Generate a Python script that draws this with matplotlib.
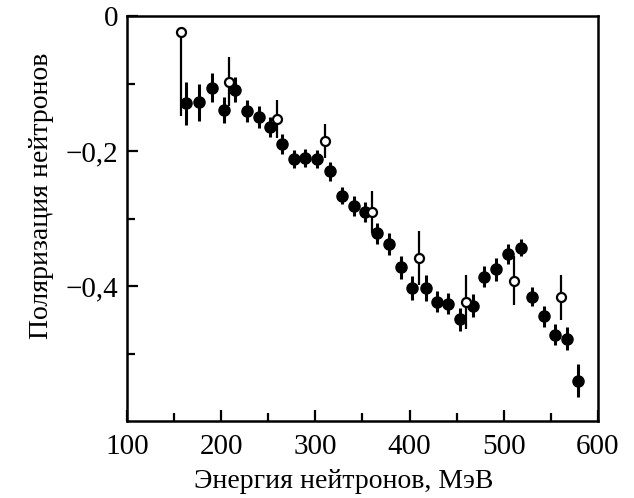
import numpy as np
import matplotlib
matplotlib.use("Agg")
import matplotlib.pyplot as plt
from matplotlib.ticker import FixedLocator, MultipleLocator, FuncFormatter

# filled points (main data)
e_fill = [163, 176, 190, 203, 215, 227, 240, 252, 265, 277, 289, 302, 316, 328,
          341, 353, 366, 378, 391, 403, 417, 429, 441, 454, 467, 479, 492, 505,
          518, 530, 543, 554, 567, 579]
p_fill = [-0.129, -0.128, -0.106, -0.139, -0.109, -0.141, -0.150, -0.164,
          -0.190, -0.212, -0.210, -0.212, -0.230, -0.266, -0.281, -0.290,
          -0.322, -0.338, -0.372, -0.403, -0.403, -0.423, -0.426, -0.449,
          -0.429, -0.386, -0.375, -0.353, -0.343, -0.416, -0.445, -0.472,
          -0.478, -0.540]
err_fill = [0.032, 0.027, 0.021, 0.019, 0.018, 0.016, 0.016, 0.015, 0.015,
            0.013, 0.013, 0.013, 0.014, 0.013, 0.015, 0.015, 0.016, 0.016,
            0.017, 0.018, 0.019, 0.016, 0.016, 0.017, 0.017, 0.016, 0.017,
            0.015, 0.013, 0.014, 0.015, 0.016, 0.017, 0.025]

# open points
e_open = [157, 208, 259, 310, 360, 410, 460, 511, 561]
p_open = [-0.024, -0.097, -0.153, -0.185, -0.290, -0.358, -0.424, -0.392, -0.417]
err_open_lo = [0.124, 0.037, 0.028, 0.025, 0.031, 0.040, 0.040, 0.036, 0.034]
err_open_hi = [0.0, 0.037, 0.028, 0.025, 0.031, 0.040, 0.040, 0.036, 0.034]

y_major = [0.0, -0.2, -0.4]
y_minor = [-0.1, -0.3, -0.5]

plt.rcParams['font.family'] = ['Liberation Serif', 'DejaVu Serif']
plt.rcParams['axes.unicode_minus'] = True

fig = plt.figure(figsize=(6.34, 4.98), dpi=100)
ax = fig.add_axes([0.2003, 0.1546, 0.7427, 0.8132])

ax.errorbar(e_fill, p_fill, yerr=err_fill, fmt='o', color='black',
            markersize=8.0, elinewidth=2.2, capsize=0, zorder=3)
ax.errorbar(e_open, p_open, yerr=[err_open_lo, err_open_hi], fmt='o',
            color='black', markerfacecolor='white', markeredgewidth=1.6,
            markersize=6.5, elinewidth=1.6, capsize=0, zorder=4)

ax.set_xlim(100, 600)
ax.set_ylim(-0.6, 0)
ax.xaxis.set_major_locator(MultipleLocator(100))
ax.xaxis.set_minor_locator(MultipleLocator(50))
ax.yaxis.set_major_locator(FixedLocator(y_major))
ax.yaxis.set_minor_locator(FixedLocator(y_minor))


def fmt_y(v, pos):
    if abs(v) < 1e-9:
        return "0"
    return ("%.1f" % v).replace("-", "\u2212").replace(".", ",")


ax.yaxis.set_major_formatter(FuncFormatter(fmt_y))

for s in ax.spines.values():
    s.set_linewidth(1.8)
ax.tick_params(which='both', direction='in', top=False, right=False,
               labelsize=21, width=1.6)
ax.tick_params(which='major', length=8, pad=6)
ax.tick_params(axis='x', which='major', pad=9)
ax.tick_params(which='minor', length=6)

ax.set_xlabel("Энергия нейтронов, МэВ", fontsize=20)
ax.set_ylabel("Поляризация нейтронов", fontsize=20)
ax.xaxis.set_label_coords(0.461, -0.118)
ax.yaxis.set_label_coords(-0.155, 0.556)

fig.savefig("out.png", dpi=100)
